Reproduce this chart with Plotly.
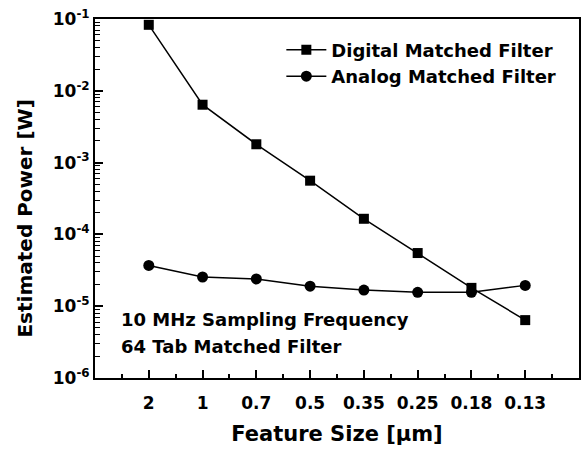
import plotly.graph_objects as go

feature_sizes = ["2", "1", "0.7", "0.5", "0.35", "0.25", "0.18", "0.13"]
digital_power = [8.3e-2, 6.4e-3, 1.8e-3, 5.6e-4, 1.65e-4, 5.5e-5, 1.8e-5, 6.4e-6]
analog_power = [3.7e-5, 2.55e-5, 2.4e-5, 1.9e-5, 1.68e-5, 1.56e-5, 1.56e-5, 1.95e-5]
y_tick_vals = [1e-6, 1e-5, 1e-4, 1e-3, 1e-2, 1e-1]
y_tick_text = ["10<sup>-6</sup>", "10<sup>-5</sup>", "10<sup>-4</sup>",
               "10<sup>-3</sup>", "10<sup>-2</sup>", "10<sup>-1</sup>"]

xpos = list(range(len(feature_sizes)))
y_minor = [m * d for d in y_tick_vals[:-1] for m in range(2, 10)]
FONT = "DejaVu Sans, Arial, sans-serif"

fig = go.Figure()
fig.add_trace(go.Scatter(
    x=xpos, y=digital_power, mode="lines+markers", name="<b>Digital Matched Filter</b>",
    line=dict(color="black", width=1.5),
    marker=dict(symbol="square", size=10, color="black"),
))
fig.add_trace(go.Scatter(
    x=xpos, y=analog_power, mode="lines+markers", name="<b>Analog Matched Filter</b>",
    line=dict(color="black", width=1.5),
    marker=dict(symbol="circle", size=11, color="black"),
))

fig.update_layout(
    width=584, height=451,
    margin=dict(l=95, r=3, t=19, b=73),
    paper_bgcolor="white", plot_bgcolor="white",
    font=dict(family=FONT, color="black", size=17),
    showlegend=True,
    legend=dict(x=0.385, y=0.965, xanchor="left", yanchor="top",
                bgcolor="rgba(0,0,0,0)", font=dict(size=18, family=FONT),
                itemwidth=40, tracegroupgap=0),
    annotations=[
        dict(x=0.05, y=0.162, xref="paper", yref="paper", xanchor="left", yanchor="middle",
             text="<b>10 MHz Sampling Frequency</b>", showarrow=False,
             font=dict(size=18, family=FONT)),
        dict(x=0.05, y=0.089, xref="paper", yref="paper", xanchor="left", yanchor="middle",
             text="<b>64 Tab Matched Filter</b>", showarrow=False,
             font=dict(size=18, family=FONT)),
        dict(x=-0.144, y=0.445, xref="paper", yref="paper", xanchor="center", yanchor="middle",
             text="<b>Estimated Power [W]</b>", textangle=-90, showarrow=False,
             font=dict(size=20, family=FONT)),
    ],
)

fig.update_xaxes(
    range=[-1, 8],
    tickvals=xpos, ticktext=["<b>%s</b>" % s for s in feature_sizes],
    ticks="inside", ticklen=8, tickwidth=1.5, tickcolor="black",
    minor=dict(tickvals=[v - 0.5 for v in xpos] + [7.5], ticks="inside", ticklen=4,
               tickwidth=1.5, tickcolor="black", showgrid=False),
    showline=True, linecolor="black", linewidth=2, mirror=True,
    showgrid=False, zeroline=False,
    tickfont=dict(size=17, family=FONT),
    ticklabelstandoff=9,
    title=dict(text="<b>Feature Size [μm]</b>", font=dict(size=21, family=FONT), standoff=14),
)

fig.update_yaxes(
    type="log", range=[-6, -1],
    tickvals=y_tick_vals, ticktext=["<b>%s</b>" % t for t in y_tick_text],
    ticks="inside", ticklen=8, tickwidth=1.5, tickcolor="black",
    minor=dict(tickvals=y_minor, ticks="inside", ticklen=5, tickwidth=1,
               tickcolor="black", showgrid=False),
    showline=True, linecolor="black", linewidth=2, mirror=True,
    showgrid=False, zeroline=False,
    tickfont=dict(size=17, family=FONT),
)

fig.write_html("out.html")
